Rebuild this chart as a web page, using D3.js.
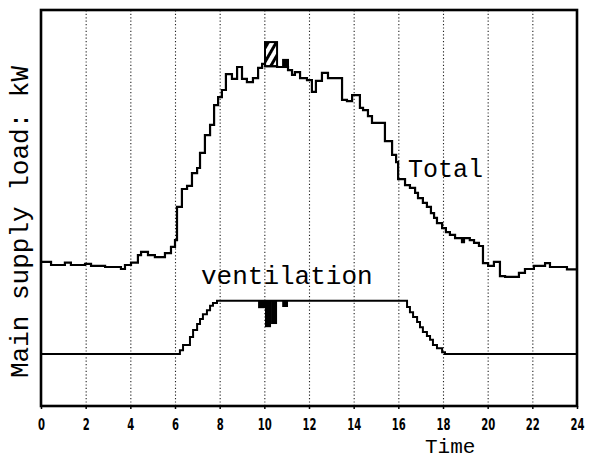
<!DOCTYPE html>
<html><head><meta charset="utf-8">
<script src="https://cdn.jsdelivr.net/npm/d3@7"></script>
<style>body{margin:0;background:#fff}</style>
</head><body><svg id="c" width="589" height="459"></svg>
<script>
// ---- data (y in arbitrary kW units 0-100) ----
const xTicks = [0,2,4,6,8,10,12,14,16,18,20,22,24];
const gridTicks = [2,4,6,8,10,12,14,16,18,20,22];

const totalT = [0,0.45,1.07,1.34,1.97,2.24,2.87,3.58,3.76,4.03,4.34,4.48,4.79,5.1,5.55,5.82,6.0,6.09,6.31,6.54,6.76,6.99,7.12,7.34,7.57,7.75,7.93,8.1,8.28,8.55,8.78,9.0,9.22,9.49,9.72,9.9,10.03,10.57,10.84,11.06,11.24,11.37,11.6,11.91,12.13,12.31,12.58,12.85,13.48,13.7,13.93,14.28,14.42,14.64,14.82,15.4,15.72,15.9,15.99,16.3,16.52,16.75,16.88,17.1,17.28,17.46,17.6,17.73,17.96,18.13,18.31,18.54,18.85,18.94,19.2,19.39,19.61,19.79,20.02,20.28,20.55,20.78,21.4,21.67,22.07,22.57,22.79,23.55,24];
const totalV = [36.4,35.6,36.2,35.6,35.9,35.4,35.1,34.6,35.6,36.2,38.1,38.9,38.1,37.6,38.6,40.2,41.9,50.3,54.8,55.6,58.8,60.1,63.9,68.4,71.0,76.0,78.0,79.8,83.8,82.6,85.6,82.6,81.8,82.8,85.4,86.4,85.8,85.6,85.6,84.8,83.6,84.3,82.8,82.3,79.3,82.1,84.1,82.8,77.3,77.0,78.5,75.3,74.7,73.2,71.5,66.9,63.4,61.6,57.3,55.8,55.1,53.8,52.5,51.3,50.3,48.7,47.5,46.2,44.9,43.9,43.2,42.4,41.4,42.4,41.9,41.2,40.4,36.1,35.4,36.4,32.8,32.6,33.6,34.6,35.4,36.1,35.1,34.5,34.5];

const ventT = [0,6.22,6.36,6.67,6.81,6.99,7.12,7.25,7.43,7.57,7.70,7.88,16.39,16.52,16.66,16.84,16.97,17.1,17.28,17.42,17.55,17.73,17.96,18.09,24];
const ventV = [13.1,14.1,15.4,17.4,19.2,20.7,22.0,23.2,24.2,25.3,26.0,26.6,25.0,23.7,22.5,21.2,19.9,18.7,17.7,16.7,15.4,14.6,13.6,13.1,13.1];

// ventilation cut-back (black bars below the ventilation line)
const cutStart = [9.72,10.03,10.3,10.8];
const cutEnd   = [10.03,10.3,10.57,11.06];
const cutLow   = [24.7,19.9,20.7,25.0];
const cutTop   = 26.6;

// boxes above the total curve
const boxStart = [10.03,10.84];
const boxEnd   = [10.57,11.06];
const boxBase  = [85.8,85.6];
const boxTop   = [91.9,87.4];
const boxFill  = ["hatch","solid"];

// ---- drawing ----
const svg = d3.select("#c");
const x = d3.scaleLinear().domain([0,24]).range([41,577]);
const y = d3.scaleLinear().domain([0,100]).range([406,10]);

const defs = svg.append("defs");
const pat = defs.append("pattern").attr("id","hatch").attr("patternUnits","userSpaceOnUse")
  .attr("width",7).attr("height",7).attr("patternTransform","rotate(30)");
pat.append("rect").attr("width",7).attr("height",7).attr("fill","#fff");
pat.append("rect").attr("x",0).attr("y",0).attr("width",3).attr("height",7).attr("fill","#000");

// grid
svg.append("g").attr("transform","translate(0,406)")
  .call(d3.axisBottom(x).tickValues(gridTicks).tickSize(-(406-10)).tickFormat(""))
  .call(g=>g.select(".domain").remove())
  .call(g=>g.selectAll("line").attr("stroke","#222").attr("stroke-width",1.1).attr("stroke-dasharray","1.2,2.2"));

// x axis labels
const ax = svg.append("g").attr("transform","translate(0,406)")
  .call(d3.axisBottom(x).tickValues(xTicks).tickSize(3).tickFormat(d3.format("d")));
ax.select(".domain").remove();
ax.selectAll("line").attr("stroke","#000").attr("stroke-width",1.5);
ax.selectAll("text").attr("y",24).attr("dy",0)
  .attr("font-family","DejaVu Sans Condensed, DejaVu Sans").attr("font-weight","bold")
  .attr("font-size",15).attr("fill","#000")
  .attr("textLength",d=>String(d).length*7).attr("lengthAdjust","spacingAndGlyphs");

const line = d3.line().x(d=>x(d[0])).y(d=>y(d[1])).curve(d3.curveStepAfter);

// ventilation cut bars
svg.append("g").selectAll("rect").data(cutStart.map((s,i)=>i)).join("rect")
  .attr("x",i=>x(cutStart[i])).attr("width",i=>x(cutEnd[i])-x(cutStart[i]))
  .attr("y",y(cutTop)).attr("height",i=>y(cutLow[i])-y(cutTop)).attr("fill","#000");

// boxes above total
svg.append("g").selectAll("rect").data(boxStart.map((s,i)=>i)).join("rect")
  .attr("x",i=>x(boxStart[i])).attr("width",i=>x(boxEnd[i])-x(boxStart[i]))
  .attr("y",i=>y(boxTop[i])).attr("height",i=>y(boxBase[i])-y(boxTop[i]))
  .attr("fill",i=>boxFill[i]==="hatch"?"url(#hatch)":"#000")
  .attr("stroke","#000").attr("stroke-width",2);

svg.append("path").datum(totalT.map((t,i)=>[t,totalV[i]])).attr("d",line)
  .attr("fill","none").attr("stroke","#000").attr("stroke-width",2.2);
svg.append("path").datum(ventT.map((t,i)=>[t,ventV[i]])).attr("d",line)
  .attr("fill","none").attr("stroke","#000").attr("stroke-width",2);

// frame
svg.append("rect").attr("x",41).attr("y",10).attr("width",577-41).attr("height",406-10)
  .attr("fill","none").attr("stroke","#000").attr("stroke-width",2.6);

const mono = "Liberation Mono, Courier New, DejaVu Sans Mono, monospace";
svg.append("text").attr("x",408).attr("y",177).attr("font-family",mono).attr("font-size",25).text("Total");
svg.append("text").attr("x",201).attr("y",284).attr("font-family",mono).attr("font-size",26).text("ventilation");
svg.append("text").attr("x",425).attr("y",453).attr("font-family",mono).attr("font-size",21).text("Time");
svg.append("text").attr("transform","translate(28,378) rotate(-90)").attr("font-family",mono)
  .attr("font-size",26).text("Main supply load: kW");
</script></body></html>
